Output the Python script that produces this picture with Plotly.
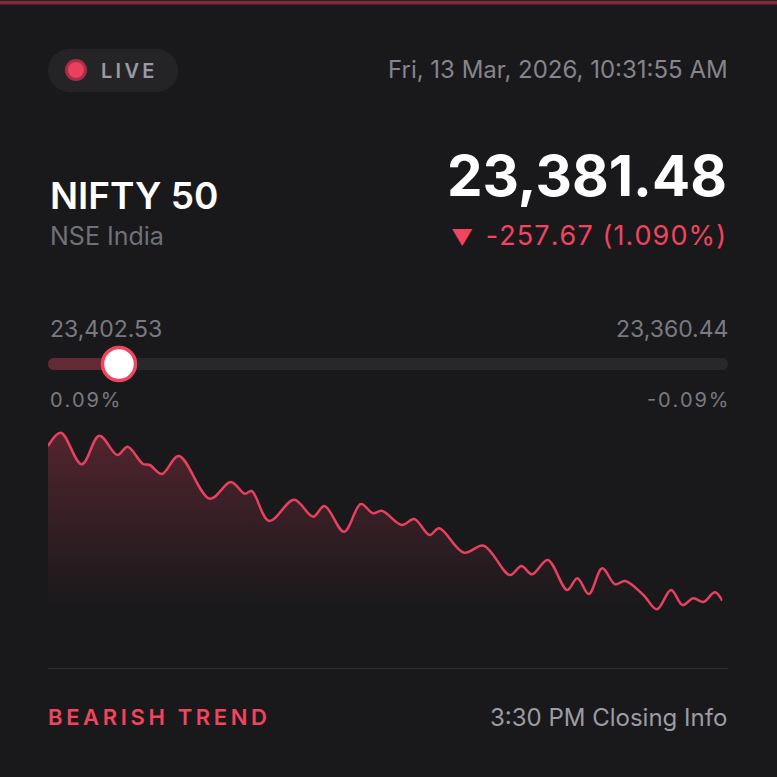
import plotly.graph_objects as go

# ---- data ----
t_idx = [0, 1.9, 5.0, 7.6, 10.3, 11.8, 14.1, 15.1, 16.9, 19.4, 24.0, 27.1, 29.2, 30.2,
         32.8, 36.5, 39.3, 41.0, 43.9, 46.4, 48.2, 49.5, 52.5, 54.3, 56.6, 58.0, 61.7,
         64.6, 68.5, 70.2, 71.8, 74.1, 77.0, 78.5, 80.2, 82.2, 84.1, 85.6, 88.3, 90.3,
         92.4, 94.1, 95.7, 97.2, 98.9, 100]
price = [23399.36, 23402.53, 23395.00, 23401.81, 23397.22, 23399.19, 23395.07, 23394.83,
         23392.69, 23396.98, 23386.80, 23390.78, 23387.99, 23388.63, 23381.48, 23386.56,
         23382.51, 23385.06, 23378.93, 23385.54, 23383.32, 23383.94, 23380.53, 23381.96,
         23378.15, 23379.74, 23373.93, 23375.60, 23368.61, 23370.76, 23368.78, 23372.19,
         23365.04, 23367.83, 23364.09, 23370.21, 23366.40, 23367.18, 23363.85, 23360.44,
         23365.04, 23361.46, 23363.06, 23362.18, 23364.49, 23362.49]

index_name = "NIFTY 50"
exchange = "NSE India"
last_price = "23,381.48"
change_arrow = "▼"
change_value = "-257.67 (1.090%)"
timestamp = "Fri, 13 Mar, 2026, 10:31:55 AM"
range_high = "23,402.53"
range_low = "23,360.44"
pct_high = "0.09%"
pct_low = "-0.09%"
trend = "BEARISH TREND"
closing = "3:30 PM Closing Info"

W = 777
BG = "#19191b"
RED = "#e8405f"
FONT = "Inter"


def X(px):
    return px / W


def Y(py):
    return 1 - py / W


def rrect(x0, y0, x1, y1, r):
    k = 0.5523 * r
    pts = [
        ("M", [(x0 + r, y0)]),
        ("L", [(x1 - r, y0)]),
        ("C", [(x1 - r + k, y0), (x1, y0 + r - k), (x1, y0 + r)]),
        ("L", [(x1, y1 - r)]),
        ("C", [(x1, y1 - r + k), (x1 - r + k, y1), (x1 - r, y1)]),
        ("L", [(x0 + r, y1)]),
        ("C", [(x0 + r - k, y1), (x0, y1 - r + k), (x0, y1 - r)]),
        ("L", [(x0, y0 + r)]),
        ("C", [(x0, y0 + r - k), (x0 + r - k, y0), (x0 + r, y0)]),
    ]
    s = ""
    for cmd, ps in pts:
        s += cmd + " ".join(f"{X(a):.5f},{Y(b):.5f}" for a, b in ps) + " "
    return s + "Z"


def spaced(s, sep="\u2009"):
    return sep.join(list(s))


fig = go.Figure()
fig.add_trace(go.Scatter(
    x=t_idx, y=price, mode="lines",
    line=dict(color=RED, width=2.5, shape="spline", smoothing=1.0),
    fill="tozeroy",
    fillgradient=dict(type="vertical", start=23361.5, stop=23402.53,
                      colorscale=[[0, "rgba(232,64,95,0)"], [1, "rgba(232,64,95,0.28)"]]),
    hoverinfo="skip", showlegend=False,
))

ymin_px, ymax_px = 640, 420
scale = 42.09 / 176.6
y_top = 23402.53 + (432.7 - ymax_px) * scale
y_bot = 23402.53 - (ymin_px - 432.7) * scale

shapes = [
    dict(type="rect", xref="paper", yref="paper", x0=0, x1=1, y0=Y(4.5), y1=Y(0.8),
         fillcolor="#7e2a3d", line=dict(width=0), layer="above"),
    dict(type="path", xref="paper", yref="paper", path=rrect(48, 49, 178, 92, 21.5),
         fillcolor="#242427", line=dict(width=0), layer="below"),
    dict(type="circle", xref="paper", yref="paper", x0=X(65), x1=X(87), y0=Y(81), y1=Y(59),
         fillcolor="#a62d44", line=dict(width=0)),
    dict(type="circle", xref="paper", yref="paper", x0=X(68), x1=X(84), y0=Y(78), y1=Y(62),
         fillcolor=RED, line=dict(width=0)),
    dict(type="path", xref="paper", yref="paper", path=rrect(48, 358, 728, 370, 6),
         fillcolor="#28282b", line=dict(width=0)),
    dict(type="path", xref="paper", yref="paper", path=rrect(48, 358, 122, 370, 6),
         fillcolor="#622a36", line=dict(width=0)),
    dict(type="circle", xref="paper", yref="paper", x0=X(102.5), x1=X(135.5), y0=Y(380.5), y1=Y(347.5),
         fillcolor="#ffffff", line=dict(color="#f0445f", width=3.5)),
    dict(type="line", xref="paper", yref="paper", x0=X(48), x1=X(728), y0=Y(668.5), y1=Y(668.5),
         line=dict(color="#2b2b2e", width=1.5)),
]


def ann(text, x, y, size, color, anchor="left", weight=400):
    return dict(text=text, x=X(x), y=Y(y), xref="paper", yref="paper", showarrow=False,
                xanchor=anchor, yanchor="middle",
                font=dict(family=FONT, size=size, color=color, weight=weight))


tiny_gap = '<span style="font-size:12px">\u200a</span>'
change_html = ('<span style="font-size:22px">' + change_arrow + '</span>\u2009 '
               + tiny_gap.join(list(change_value)))

annotations = [
    ann(spaced("LIVE"), 99, 71, 20, "#9a9aa2", weight=600),
    ann(timestamp, 730, 70, 24, "#85858d", "right"),
    ann(index_name, 48, 196, 37, "#ffffff", weight=600),
    ann(exchange, 48, 236, 25, "#707078"),
    ann(last_price, 729, 175, 56.5, "#ffffff", "right", weight=700),
    ann(change_html, 728, 235, 27, "#f0445f", "right"),
    ann(range_high, 48, 329, 23, "#7a7a82"),
    ann(range_low, 730, 329, 23, "#7a7a82", "right"),
    ann(spaced(pct_high, "\u200a"), 48, 400, 20, "#7a7a82"),
    ann(spaced(pct_low, "\u200a"), 730, 400, 20, "#7a7a82", "right"),
    ann(spaced(trend), 46, 717, 22, "#f0445f", weight=600),
    ann(closing, 729, 717, 24, "#9c9ca4", "right"),
]

fig.update_layout(
    width=W, height=W,
    margin=dict(l=0, r=0, t=0, b=0),
    paper_bgcolor=BG, plot_bgcolor=BG,
    xaxis=dict(visible=False, domain=[X(48), X(722.3)], range=[0, 100], fixedrange=True),
    yaxis=dict(visible=False, domain=[Y(ymin_px), Y(ymax_px)], range=[y_bot, y_top], fixedrange=True),
    shapes=shapes,
    annotations=annotations,
    showlegend=False,
)

fig.write_html("out.html", config={"displayModeBar": False},
               post_script="document.body.style.margin='0';document.body.style.overflow='hidden';"
                           "document.body.style.background='" + BG + "';")
